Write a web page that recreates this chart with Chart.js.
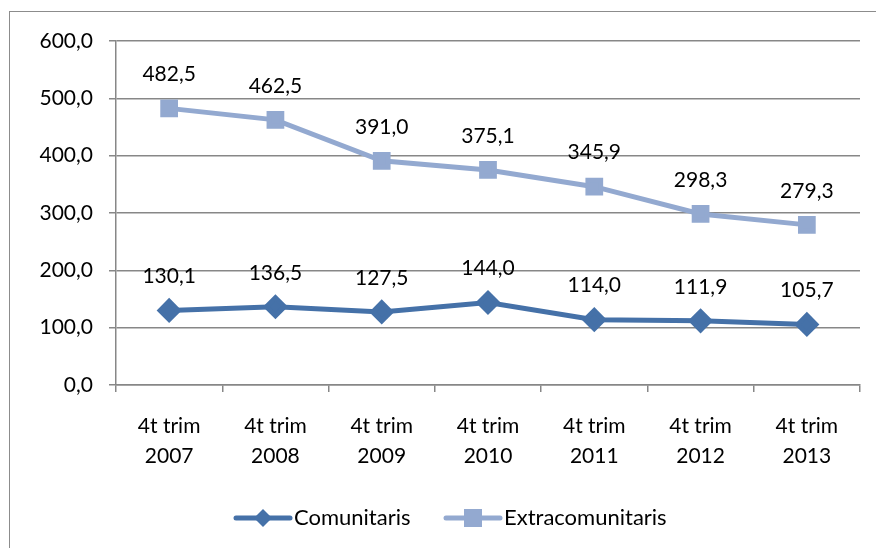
<!DOCTYPE html>
<html>
<head>
<meta charset="utf-8">
<script src="https://cdn.jsdelivr.net/npm/chart.js@4"></script>
<style>
  body { margin: 0; background: #fff; }
  canvas { display: block; }
</style>
</head>
<body>
<canvas id="chart" width="876" height="548"></canvas>
<script>
const categories = [['4t trim', '2007'], ['4t trim', '2008'], ['4t trim', '2009'], ['4t trim', '2010'], ['4t trim', '2011'], ['4t trim', '2012'], ['4t trim', '2013']];
const comunitaris = [130.1, 136.5, 127.5, 144.0, 114.0, 111.9, 105.7];
const extracomunitaris = [482.5, 462.5, 391.0, 375.1, 345.9, 298.3, 279.3];
const yTicks = [0, 100, 200, 300, 400, 500, 600];

const FONT = 'Lato, "Open Sans", sans-serif';
const fmt = (v) => v.toFixed(1).replace('.', ',');

// outer frame around the whole chart
const framePlugin = {
  id: 'frame',
  beforeDraw(chart) {
    const ctx = chart.ctx;
    ctx.save();
    ctx.strokeStyle = '#8c8c8c';
    ctx.lineWidth = 1;
    ctx.strokeRect(9.5, 11.5, 900, 600);
    ctx.restore();
  },
};

// value labels above each point
const labelPlugin = {
  id: 'pointLabels',
  afterDatasetsDraw(chart) {
    const ctx = chart.ctx;
    ctx.save();
    ctx.font = '21px ' + FONT;
    ctx.fillStyle = '#000';
    ctx.textAlign = 'center';
    ctx.textBaseline = 'middle';
    chart.data.datasets.forEach((ds, i) => {
      chart.getDatasetMeta(i).data.forEach((pt, j) => {
        ctx.fillText(fmt(ds.data[j]), pt.x, pt.y - 34);
      });
    });
    ctx.restore();
  },
};

// legend: line + marker + text, like the office style
const legendPlugin = {
  id: 'lineLegend',
  afterDraw(chart) {
    const ctx = chart.ctx;
    const y = 518;
    const starts = [236, 446];
    ctx.save();
    ctx.font = '22px ' + FONT;
    ctx.textBaseline = 'middle';
    chart.data.datasets.forEach((ds, i) => {
      const x = starts[i];
      ctx.strokeStyle = ds.borderColor;
      ctx.lineWidth = 5;
      ctx.lineCap = 'round';
      ctx.beginPath();
      ctx.moveTo(x, y);
      ctx.lineTo(x + 54, y);
      ctx.stroke();
      ctx.fillStyle = ds.borderColor;
      const cx = x + 27;
      if (ds.pointStyle === 'rectRot') {
        ctx.beginPath();
        ctx.moveTo(cx, y - 9);
        ctx.lineTo(cx + 9, y);
        ctx.lineTo(cx, y + 9);
        ctx.lineTo(cx - 9, y);
        ctx.closePath();
        ctx.fill();
      } else {
        ctx.fillRect(cx - 9, y - 9, 18, 18);
      }
      ctx.fillStyle = '#000';
      ctx.fillText(ds.label, x + 58, y);
    });
    ctx.restore();
  },
};

new Chart(document.getElementById('chart'), {
  type: 'line',
  data: {
    labels: categories,
    datasets: [
      {
        label: 'Comunitaris',
        data: comunitaris,
        borderColor: '#4571a8',
        backgroundColor: '#4571a8',
        borderWidth: 5,
        pointStyle: 'rectRot',
        pointRadius: 9,
        pointHoverRadius: 9,
        tension: 0,
      },
      {
        label: 'Extracomunitaris',
        data: extracomunitaris,
        borderColor: '#93a9d0',
        backgroundColor: '#93a9d0',
        borderWidth: 5,
        pointStyle: 'rect',
        pointRadius: 9,
        pointHoverRadius: 9,
        tension: 0,
      },
    ],
  },
  options: {
    responsive: false,
    animation: false,
    layout: { padding: { left: 0, right: 16, top: 41, bottom: 0 } },
    plugins: { legend: { display: false }, tooltip: { enabled: false } },
    scales: {
      x: {
        offset: true,
        grid: { offset: true, drawOnChartArea: false, color: '#878787', lineWidth: 1.5, tickLength: 7 },
        border: { color: '#878787', width: 1.5 },
        ticks: { font: { family: FONT, size: 21, lineHeight: 1.4 }, color: '#000', padding: 20, maxRotation: 0 },
        afterFit(scale) { scale.height = 163; },
      },
      y: {
        min: 0,
        max: 600,
        afterBuildTicks(scale) { scale.ticks = yTicks.map((v) => ({ value: v })); },
        grid: { color: '#878787', lineWidth: 1.5, tickLength: 7 },
        border: { color: '#878787', width: 1.5 },
        ticks: { font: { family: FONT, size: 21 }, color: '#000', padding: 16, callback: (v) => fmt(v) },
        afterFit(scale) { scale.width = 116; },
      },
    },
  },
  plugins: [framePlugin, labelPlugin, legendPlugin],
});
</script>
</body>
</html>
